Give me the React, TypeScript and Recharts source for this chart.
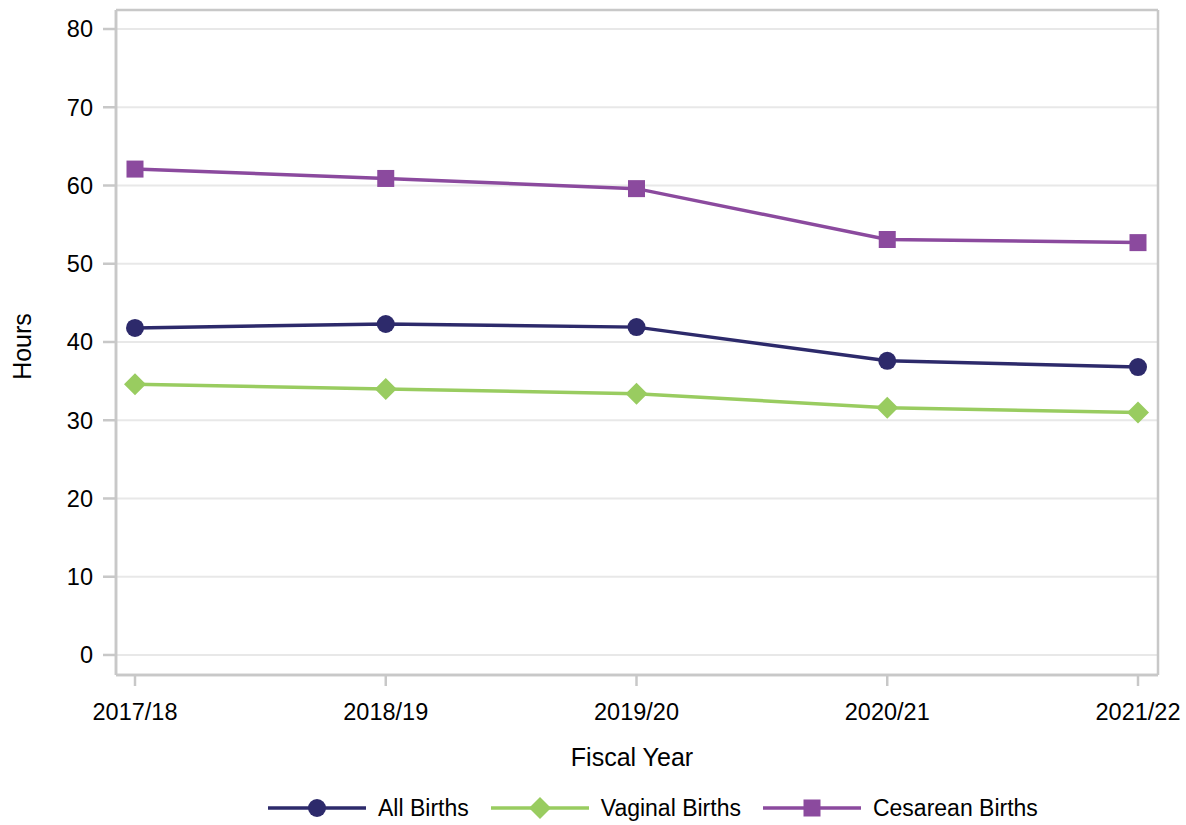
import React from 'react';
import { LineChart, Line, XAxis, YAxis, CartesianGrid, Legend } from 'recharts';

const years = ['2017/18', '2018/19', '2019/20', '2020/21', '2021/22'];
const allBirths = [41.8, 42.3, 41.9, 37.6, 36.8];
const vaginalBirths = [34.6, 34.0, 33.4, 31.6, 31.0];
const cesareanBirths = [62.1, 60.9, 59.6, 53.1, 52.7];
const yTicks = [0, 10, 20, 30, 40, 50, 60, 70, 80];

const seriesKeys = ['all', 'vaginal', 'cesarean'];
const seriesNames = { all: 'All Births', vaginal: 'Vaginal Births', cesarean: 'Cesarean Births' };
const seriesColors = { all: '#2d2a6b', vaginal: '#99cc60', cesarean: '#8b4a9e' };
const seriesShapes = { all: 'circle', vaginal: 'diamond', cesarean: 'square' };

const data = years.map((year, i) => ({
  year,
  all: allBirths[i],
  vaginal: vaginalBirths[i],
  cesarean: cesareanBirths[i],
}));

const FONT = '"Liberation Sans", Arial, Helvetica, sans-serif';
const AXIS = '#c8c8c8';
const GRID = '#e8e8e8';

function Marker({ shape, cx, cy, color }: { shape: string; cx: number; cy: number; color: string }) {
  if (shape === 'circle') return <circle cx={cx} cy={cy} r={9} fill={color} />;
  if (shape === 'square') return <rect x={cx - 8.5} y={cy - 8.5} width={17} height={17} fill={color} />;
  const h = 11;
  return <polygon points={`${cx},${cy - h} ${cx + h},${cy} ${cx},${cy + h} ${cx - h},${cy}`} fill={color} />;
}

const makeDot = (key: string) => (props: any) => {
  const { cx, cy, index } = props;
  if (cx == null || cy == null) return <g key={`${key}-${index}`} />;
  return (
    <g key={`${key}-${index}`}>
      <Marker shape={(seriesShapes as any)[key]} cx={cx} cy={cy} color={(seriesColors as any)[key]} />
    </g>
  );
};

const renderLegend = () => {
  return (
    <div style={{ display: 'flex', alignItems: 'center', fontFamily: FONT, fontSize: 23, color: '#000' }}>
      {seriesKeys.map((key) => {
        const color = (seriesColors as any)[key];
        return (
          <div key={key} style={{ display: 'flex', alignItems: 'center', marginRight: 22 }}>
            <svg width={98} height={24} style={{ display: 'block' }}>
              <line x1={0} y1={12} x2={98} y2={12} stroke={color} strokeWidth={3.5} />
              <Marker shape={(seriesShapes as any)[key]} cx={49} cy={12} color={color} />
            </svg>
            <span style={{ marginLeft: 12, lineHeight: '24px' }}>{(seriesNames as any)[key]}</span>
          </div>
        );
      })}
    </div>
  );
};

const yLabel = (props: any) => {
  const vb = props.viewBox || { x: 0, y: 10, width: 116, height: 665 };
  const x = 31;
  const y = vb.y + vb.height / 2 + 4;
  return (
    <text
      x={x}
      y={y}
      transform={`rotate(-90, ${x}, ${y})`}
      textAnchor="middle"
      fontFamily={FONT}
      fontSize={25}
      fill="#000"
    >
      Hours
    </text>
  );
};

const frameH = (args: any) => {
  const o = args.offset;
  return [o.top, o.top + o.height];
};
const frameV = (args: any) => {
  const o = args.offset;
  return [o.left, o.left + o.width];
};

export default function App() {
  return (
    <div style={{ position: 'absolute', left: 0, top: 0, width: 1186, height: 825, background: '#fff' }}>
      <LineChart
        width={1186}
        height={825}
        data={data}
        margin={{ top: 10, right: 28, left: 0, bottom: 0 }}
        style={{ fontFamily: FONT }}
      >
        <CartesianGrid horizontal vertical={false} stroke={GRID} strokeWidth={2} />
        <CartesianGrid
          horizontal
          vertical
          stroke={AXIS}
          strokeWidth={2.5}
          horizontalCoordinatesGenerator={frameH}
          verticalCoordinatesGenerator={frameV}
        />
        <XAxis
          dataKey="year"
          height={150}
          padding={{ left: 19, right: 20 }}
          axisLine={{ stroke: AXIS, strokeWidth: 2.5 }}
          tickLine={{ stroke: AXIS, strokeWidth: 2.5 }}
          tickSize={11}
          tickMargin={17}
          tick={{ fill: '#000', fontSize: 23.5, fontFamily: FONT }}
          interval={0}
          label={{ value: 'Fiscal Year', position: 'insideTop', offset: 73, dx: -5, fill: '#000', fontSize: 25, fontFamily: FONT }}
        />
        <YAxis
          type="number"
          width={116}
          domain={[-2.56, 82.43]}
          ticks={yTicks}
          allowDataOverflow
          axisLine={{ stroke: AXIS, strokeWidth: 2.5 }}
          tickLine={{ stroke: AXIS, strokeWidth: 2.5 }}
          tickSize={13}
          tickMargin={10}
          tick={{ fill: '#000', fontSize: 23.5, fontFamily: FONT }}
          label={yLabel}
        />
        <Legend
          layout="horizontal"
          verticalAlign="middle"
          align="center"
          content={renderLegend}
          wrapperStyle={{ top: 796, left: 268, width: 900, height: 24 }}
        />
        <Line
          dataKey="all"
          name={seriesNames.all}
          stroke={seriesColors.all}
          strokeWidth={3.5}
          dot={makeDot('all')}
          activeDot={false}
          isAnimationActive={false}
        />
        <Line
          dataKey="vaginal"
          name={seriesNames.vaginal}
          stroke={seriesColors.vaginal}
          strokeWidth={3.5}
          dot={makeDot('vaginal')}
          activeDot={false}
          isAnimationActive={false}
        />
        <Line
          dataKey="cesarean"
          name={seriesNames.cesarean}
          stroke={seriesColors.cesarean}
          strokeWidth={3.5}
          dot={makeDot('cesarean')}
          activeDot={false}
          isAnimationActive={false}
        />
      </LineChart>
    </div>
  );
}
